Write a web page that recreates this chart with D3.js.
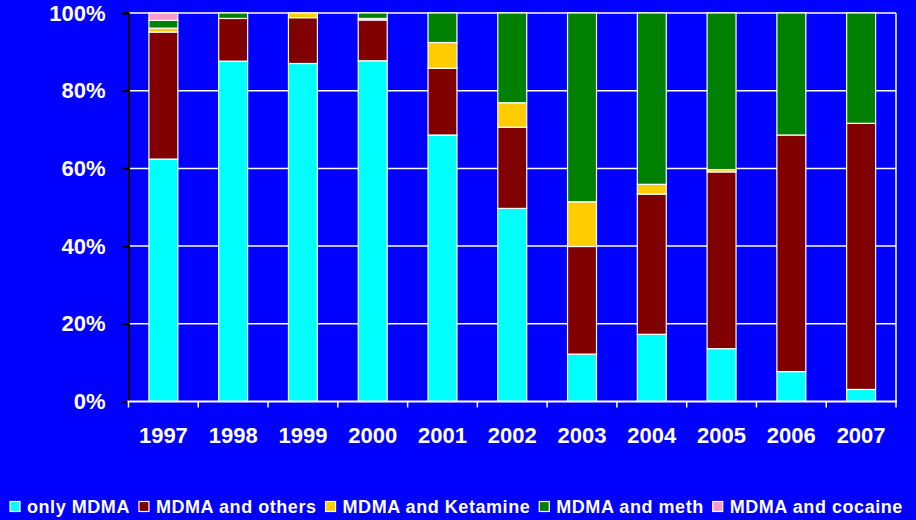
<!DOCTYPE html>
<html>
<head>
<meta charset="utf-8">
<script src="https://cdn.jsdelivr.net/npm/d3@7"></script>
<style>
  html, body { margin: 0; padding: 0; background: #0000FF; }
  svg { display: block; }
  text { font-family: "Liberation Sans", Arial, sans-serif; font-weight: bold; fill: #fff; }
</style>
</head>
<body>
<svg id="chart" width="916" height="520"></svg>
<script>
const years = ["1997","1998","1999","2000","2001","2002","2003","2004","2005","2006","2007"];
const seriesNames = ["only MDMA","MDMA and others","MDMA and Ketamine","MDMA and meth","MDMA and cocaine"];
const onlyMDMA   = [62.4, 87.6, 87.0, 87.7, 68.6, 49.7, 12.2, 17.3, 13.6,  7.7,  3.1];
const mdmaOthers = [32.7, 11.0, 11.8, 10.5, 17.2, 20.9, 27.7, 36.1, 45.5, 60.9, 68.5];
const mdmaKet    = [ 1.0,  0.0,  1.2,  0.4,  6.6,  6.3, 11.5,  2.5,  0.6,  0.0,  0.0];
const mdmaMeth   = [ 2.0,  1.4,  0.0,  1.4,  7.6, 23.1, 48.6, 44.1, 40.3, 31.4, 28.4];
const mdmaCoc    = [ 1.9,  0.0,  0.0,  0.0,  0.0,  0.0,  0.0,  0.0,  0.0,  0.0,  0.0];
const yTicks = [0, 20, 40, 60, 80, 100];
const colors = ["#00FFFF", "#800000", "#FFCC00", "#008000", "#FF99CC"];

(function () {
const seriesValues = [onlyMDMA, mdmaOthers, mdmaKet, mdmaMeth, mdmaCoc];
const rows = years.map((yr, i) => {
  const r = { year: yr };
  seriesNames.forEach((s, k) => r[s] = seriesValues[k][i]);
  return r;
});

const svg = d3.select("#chart");
const pLeft = 128.5, pRight = 896, pTop = 13, pBottom = 401.5;

const x = d3.scaleBand().domain(years).range([pLeft, pRight]).paddingInner(0.585).paddingOuter(0.2925);
const y = d3.scaleLinear().domain([0, 100]).range([pBottom, pTop]);

// gridlines
svg.append("g").selectAll("line").data(yTicks.filter(t => t > 0)).join("line")
  .attr("x1", pLeft).attr("x2", pRight)
  .attr("y1", d => y(d)).attr("y2", d => y(d))
  .attr("stroke", "#fff").attr("stroke-width", 1.5);
// right border
svg.append("line").attr("x1", pRight).attr("x2", pRight).attr("y1", pTop).attr("y2", pBottom)
  .attr("stroke", "#fff").attr("stroke-width", 1.5);

// bars
const stack = d3.stack().keys(seriesNames)(rows);
svg.append("g").selectAll("g").data(stack).join("g")
  .attr("fill", (d, i) => colors[i])
  .selectAll("rect").data(d => d.filter(p => p[1] - p[0] > 0)).join("rect")
  .attr("x", d => x(d.data.year))
  .attr("width", x.bandwidth())
  .attr("y", d => y(d[1]))
  .attr("height", d => y(d[0]) - y(d[1]))
  .attr("stroke", "#fff").attr("stroke-width", 1.2);

// y axis
const yAxis = svg.append("g").attr("transform", `translate(${pLeft},0)`)
  .call(d3.axisLeft(y).tickValues(yTicks).tickFormat(d => d + "%").tickSize(6).tickPadding(17));
yAxis.select(".domain").attr("stroke", "#000").attr("stroke-width", 2);
yAxis.selectAll(".tick line").attr("stroke", "#000").attr("stroke-width", 2);
yAxis.selectAll("text").attr("fill", "#fff").style("font-size", "22px")
  .style("font-family", "'Liberation Sans', Arial, sans-serif").style("font-weight", "bold");

// x axis
const xb = d3.scaleLinear().domain([0, years.length]).range([pLeft, pRight]);
const xAxisG = svg.append("g").attr("transform", `translate(0,${pBottom})`);
xAxisG.append("line").attr("x1", pLeft - 1).attr("x2", pRight + 1).attr("stroke", "#fff").attr("stroke-width", 2);
xAxisG.selectAll("line.tk").data(d3.range(0, years.length + 1)).join("line").attr("class", "tk")
  .attr("x1", d => xb(d)).attr("x2", d => xb(d)).attr("y1", 0).attr("y2", 6)
  .attr("stroke", "#fff").attr("stroke-width", 1.5);
xAxisG.selectAll("text").data(years).join("text")
  .attr("x", d => x(d) + x.bandwidth() / 2).attr("y", 41.5)
  .attr("text-anchor", "middle").style("font-size", "22px").text(d => d);

// legend
const leg = svg.append("g");
const items = leg.selectAll("g").data(seriesNames).join("g");
items.append("rect").attr("width", 10).attr("height", 10).attr("y", 501.5)
  .attr("fill", (d, i) => colors[i]).attr("stroke", "#fff").attr("stroke-width", 1.2);
items.append("text").attr("y", 513).style("font-size", "18px").style("letter-spacing", "0.55px").text(d => d);
let cx = 10;
items.each(function() {
  const g = d3.select(this);
  g.select("rect").attr("x", cx);
  g.select("text").attr("x", cx + 17);
  cx += 17 + g.select("text").node().getComputedTextLength() + 9;
});
})();
</script>
</body>
</html>
